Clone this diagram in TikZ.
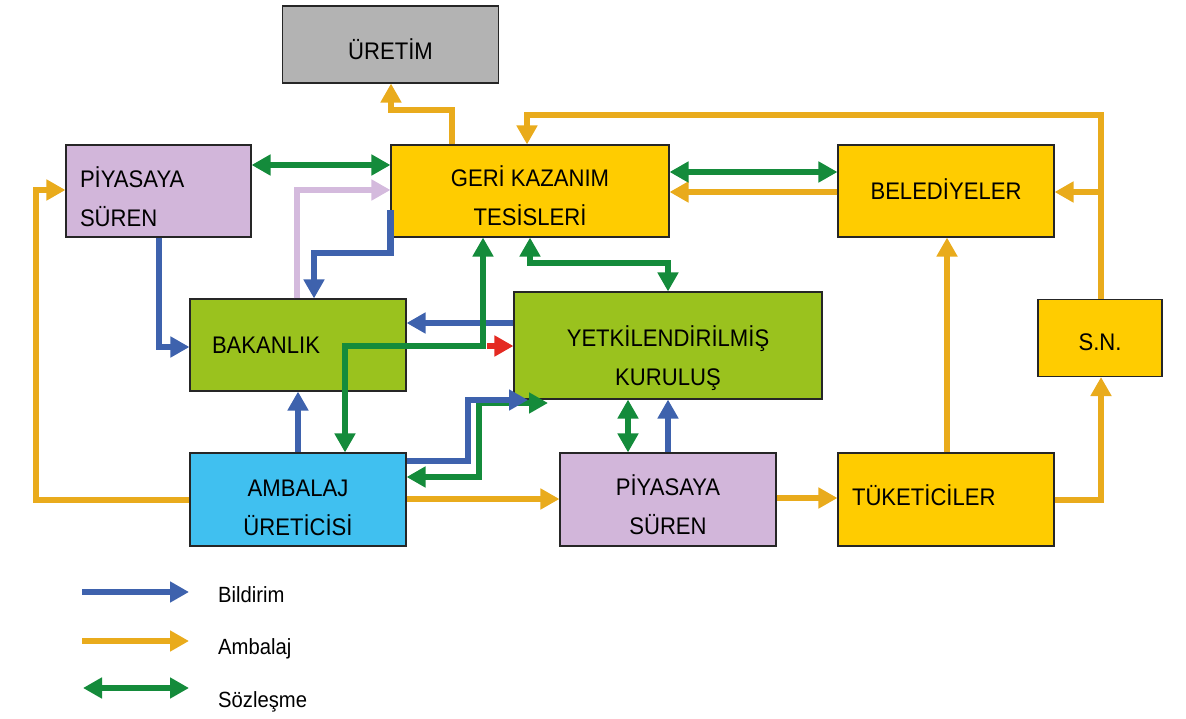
\documentclass[tikz,border=0pt]{standalone}
\usepackage{fontspec}
\newfontfamily\boxfont{Liberation Sans}[FakeStretch=0.92]
\usetikzlibrary{arrows.meta}
\definecolor{cGray}{HTML}{B3B3B3}
\definecolor{cYel}{HTML}{FFCC00}
\definecolor{cLil}{HTML}{D2B6DA}
\definecolor{cGrn}{HTML}{9AC21E}
\definecolor{cCyan}{HTML}{40C0F0}
\definecolor{aBlue}{HTML}{3E62AD}
\definecolor{aOra}{HTML}{E9AB1C}
\definecolor{aGrn}{HTML}{148B3B}
\definecolor{aLil}{HTML}{D4BADD}
\definecolor{aRed}{HTML}{E42A22}
\begin{document}
\begin{tikzpicture}[x=1pt,y=-1pt,
  >={Triangle[width=20pt,length=19pt]},
  box/.style={draw=black!85, line width=1.1pt, inner sep=0pt, align=center,
    font=\boxfont\fontsize{24}{39}\selectfont},
  leg/.style={inner sep=0pt, font=\boxfont\fontsize{22}{26}\selectfont},
  conn/.style={line width=6.5pt},
  arrBlue/.style={conn, color=aBlue, ->},
  arrOra/.style={conn, color=aOra, ->},
  arrGrn/.style={conn, color=aGrn, <->},
  arrLil/.style={conn, color=aLil, ->},
  arrRed/.style={conn, color=aRed, ->}]
\useasboundingbox (0,0) rectangle (1186,719);

% boxes
\node[box, fill=cGray, minimum width=216pt, minimum height=77pt, text height=31pt, text depth=0pt] (ure) at (390.5,44.5) {ÜRETİM};
\node[box, fill=cYel, minimum width=278pt, minimum height=92pt] (gkt) at (530,191) {\rule{0pt}{39pt}GERİ KAZANIM\\TESİSLERİ\rule[-8pt]{0pt}{8pt}};
\node[box, fill=cLil, minimum width=185pt, minimum height=92pt, inner xsep=14pt, text width=157pt, align=left] (ps1) at (158.5,191) {\rule{0pt}{40pt}PİYASAYA\\SÜREN\rule[-8pt]{0pt}{8pt}};
\node[box, fill=cYel, minimum width=216pt, minimum height=92pt, text height=17pt, text depth=0pt] (bel) at (946,191) {BELEDİYELER};
\node[box, fill=cGrn, minimum width=216pt, minimum height=92pt, inner xsep=22pt, text width=172pt, align=left, text height=17pt, text depth=0pt] (bak) at (298,345) {BAKANLIK};
\node[box, fill=cGrn, minimum width=308pt, minimum height=107pt] (yk) at (668,345.5) {\rule{0pt}{48pt}YETKİLENDİRİLMİŞ\\KURULUŞ\rule[-8pt]{0pt}{8pt}};
\node[box, fill=cYel, minimum width=124pt, minimum height=77pt, text height=25pt, text depth=0pt] (sn) at (1100,338) {S.N.};
\node[box, fill=cCyan, minimum width=216pt, minimum height=93pt] (au) at (298,499.5) {\rule{0pt}{40pt}AMBALAJ\\ÜRETİCİSİ\rule[-8pt]{0pt}{8pt}};
\node[box, fill=cLil, minimum width=216pt, minimum height=93pt] (ps2) at (668,499.5) {\rule{0pt}{38pt}PİYASAYA\\SÜREN\rule[-8pt]{0pt}{8pt}};
\node[box, fill=cYel, minimum width=216pt, minimum height=93pt, inner xsep=14pt, text width=188pt, align=left, text height=12pt, text depth=0pt] (tuk) at (946,499.5) {TÜKETİCİLER};

% orange (Ambalaj)
\draw[arrOra] (gkt.north -| 452,0) |- (391,110) -- (ure.south -| 391,0);
\draw[arrOra] (tuk.east |- 0,500) -| (sn.south -| 1101,0);
\draw[arrOra] (sn.north -| 1101,0) |- (527,115) -- (gkt.north -| 527,0);
\coordinate (snj) at (1101,192);
\draw[arrOra] (snj) -- (bel.east |- snj);
\draw[arrOra] (bel.west |- 0,192) -- (gkt.east |- 0,192);
\draw[arrOra] (tuk.north -| 947,0) -- (bel.south -| 947,0);
\draw[arrOra] (ps2.east |- 0,498) -- (tuk.west |- 0,498);
\draw[arrOra] (au.east |- 0,499) -- (ps2.west |- 0,499);
\draw[arrOra] (au.west |- 0,500) -| (36,190) -- (ps1.west |- 0,190);

% lilac
\draw[arrLil] (bak.north -| 297,0) |- (gkt.west |- 0,190);

% blue (Bildirim)
\draw[arrBlue] (gkt.west |- 0,210) |- (314,253) -- (bak.north -| 314,0);
\draw[arrBlue] (yk.west |- 0,323) -- (bak.east |- 0,323);
\draw[arrBlue] (au.north -| 298,0) -- (bak.south -| 298,0);
\draw[arrBlue] (ps1.south -| 159,0) |- (bak.west |- 0,347);
\draw[arrBlue] (ps2.north -| 668,0) -- (yk.south -| 668,0);

% green (Sozlesme)
\draw[arrGrn] (ps1.east |- 0,165) -- (gkt.west |- 0,165);
\draw[arrGrn] (gkt.east |- 0,172) -- (bel.west |- 0,172);
\draw[arrGrn] (gkt.south -| 483,0) |- (345,346) -- (au.north -| 345,0);
\draw[arrGrn] (gkt.south -| 530,0) |- (668,263) -- (yk.north -| 668,0);
\draw[arrGrn] (yk.south -| 628,0) -- (ps2.north -| 628,0);
\coordinate (ykg) at (548,403);
\draw[arrGrn] (au.east |- 0,477) -| (479,403) -- (ykg);
\coordinate (ykb) at (528,400);
\draw[arrBlue] (au.east |- 0,461) -| (468,400) -- (ykb);

% red
\coordinate (rs) at (487,346);
\draw[arrRed] (rs) -- (yk.west |- rs);

% legend
\coordinate (l1a) at (82,592); \coordinate (l1b) at (189,592);
\draw[arrBlue] (l1a) -- (l1b);
\node[leg, anchor=base west] (t1) at (218,602) {Bildirim};
\coordinate (l2a) at (82,641); \coordinate (l2b) at (189,641);
\draw[arrOra] (l2a) -- (l2b);
\node[leg, anchor=base west] (t2) at (218,654) {Ambalaj};
\coordinate (l3a) at (83,688); \coordinate (l3b) at (189,688);
\draw[arrGrn] (l3a) -- (l3b);
\node[leg, anchor=base west] (t3) at (218,707) {Sözleşme};
\end{tikzpicture}
\end{document}
